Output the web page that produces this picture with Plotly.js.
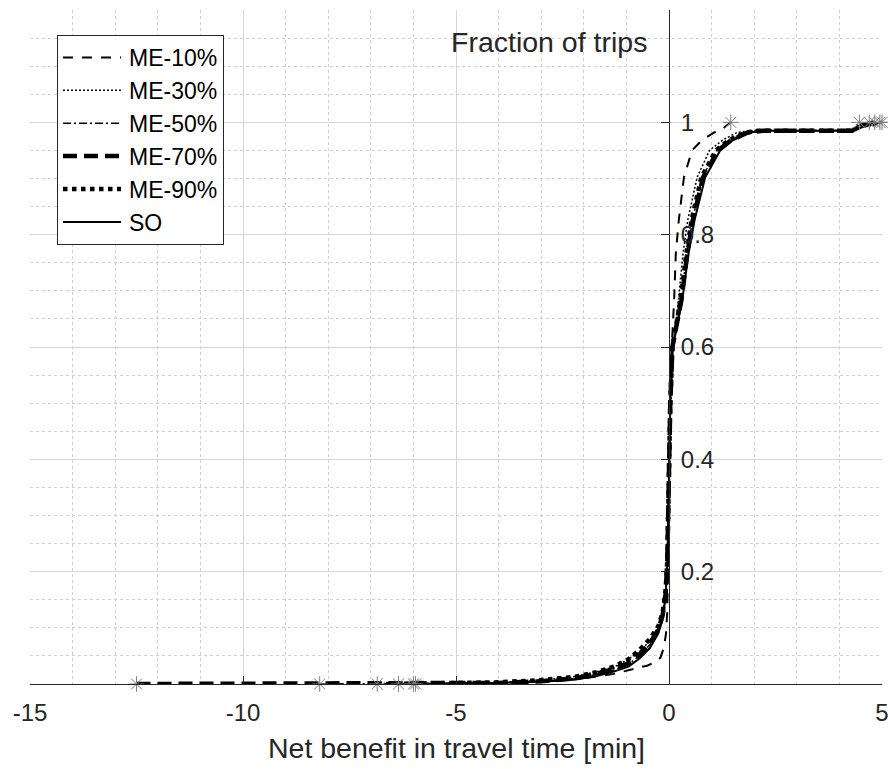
<!DOCTYPE html>
<html>
<head>
<meta charset="utf-8">
<script src="https://cdn.plot.ly/plotly-3.0.1.min.js"></script>
<style>html,body{margin:0;padding:0;background:#fff;}#chart{width:888px;height:769px;}</style>
</head>
<body>
<div id="chart"></div>
<script>
// Series names
const seriesNames = ["ME-10%", "ME-30%", "ME-50%", "ME-70%", "ME-90%", "SO"];

// Cumulative distributions (net benefit in minutes -> fraction of trips)
const me10X = [-5.95, -4.5, -3.0, -2.0, -1.3, -0.8, -0.5, -0.3, -0.2, -0.12, -0.07, -0.04, -0.02, 0, 0.02, 0.05, 0.12, 0.16, 0.23, 0.35, 0.54, 0.77, 1.06, 1.2, 1.45];
const me10Y = [0, 0.001, 0.004, 0.01, 0.018, 0.027, 0.033, 0.04, 0.047, 0.065, 0.09, 0.13, 0.2, 0.3, 0.45, 0.58, 0.683, 0.767, 0.826, 0.902, 0.95, 0.968, 0.982, 0.985, 1.0];

const me30X = [-6.0, -5, -4, -3, -2.3, -1.8, -1.3, -1.0, -0.7, -0.45, -0.25, -0.14, -0.07, -0.03, -0.01, 0.01, 0.04, 0.09, 0.22, 0.33, 0.44, 0.66, 0.95, 1.25, 1.6, 2.0, 4.3, 4.47];
const me30Y = [0, 0.001, 0.003, 0.007, 0.012, 0.02, 0.03, 0.042, 0.057, 0.077, 0.1, 0.13, 0.17, 0.23, 0.3, 0.4, 0.5, 0.6, 0.683, 0.767, 0.826, 0.902, 0.95, 0.968, 0.982, 0.986, 0.986, 1.0];

const me50X = [-8.2, -5, -4, -3, -2.2, -1.7, -1.3, -0.95, -0.7, -0.45, -0.25, -0.15, -0.08, -0.04, -0.02, 0, 0.03, 0.08, 0.28, 0.42, 0.55, 0.78, 1.12, 1.42, 1.82, 2.15, 4.3, 4.4, 4.7];
const me50Y = [0, 0.001, 0.002, 0.005, 0.01, 0.017, 0.025, 0.035, 0.05, 0.07, 0.095, 0.12, 0.16, 0.22, 0.3, 0.4, 0.5, 0.6, 0.683, 0.767, 0.826, 0.902, 0.95, 0.968, 0.982, 0.985, 0.985, 0.993, 1.0];

const me70X = [-12.5, -5, -4, -3, -2.2, -1.7, -1.3, -0.95, -0.7, -0.45, -0.25, -0.15, -0.08, -0.04, -0.02, 0, 0.03, 0.08, 0.29, 0.43, 0.56, 0.8, 1.15, 1.45, 1.85, 2.2, 4.3, 4.45, 4.83];
const me70Y = [0, 0.001, 0.002, 0.005, 0.01, 0.018, 0.027, 0.037, 0.052, 0.072, 0.097, 0.122, 0.16, 0.22, 0.3, 0.4, 0.5, 0.6, 0.683, 0.767, 0.826, 0.902, 0.95, 0.968, 0.982, 0.985, 0.985, 0.993, 1.0];

const me90X = [-6.85, -5, -4, -3, -2.2, -1.7, -1.3, -0.95, -0.7, -0.45, -0.25, -0.15, -0.08, -0.04, -0.02, 0, 0.03, 0.08, 0.27, 0.41, 0.53, 0.76, 1.1, 1.4, 1.8, 2.1, 4.3, 4.5, 4.95];
const me90Y = [0, 0.001, 0.003, 0.007, 0.013, 0.021, 0.031, 0.044, 0.06, 0.08, 0.103, 0.127, 0.165, 0.22, 0.3, 0.4, 0.5, 0.6, 0.683, 0.767, 0.826, 0.902, 0.95, 0.968, 0.982, 0.985, 0.985, 0.993, 1.0];

const soX = [-6.35, -5, -4, -3, -2.2, -1.7, -1.3, -0.95, -0.7, -0.45, -0.25, -0.15, -0.08, -0.04, -0.02, 0, 0.03, 0.09, 0.31, 0.46, 0.6, 0.85, 1.2, 1.5, 1.9, 2.25, 4.3, 4.6, 5.0];
const soY = [0, 0.001, 0.002, 0.004, 0.008, 0.014, 0.022, 0.031, 0.045, 0.064, 0.09, 0.115, 0.155, 0.21, 0.29, 0.39, 0.5, 0.6, 0.683, 0.767, 0.826, 0.902, 0.95, 0.968, 0.982, 0.985, 0.985, 0.993, 1.0];

// Axis ticks
const xTickVals = [-15, -10, -5, 0, 5];
const xTickText = ["-15", "-10", "-5", "0", "5"];
const yTickVals = [0.2, 0.4, 0.6, 0.8, 1];
const yTickText = ["0.2", "0.4", "0.6", "0.8", "1"];

const xTitle = "Net benefit in travel time [min]";
const yTitle = "Fraction of trips";

const seriesX = [me10X, me30X, me50X, me70X, me90X, soX];
const seriesY = [me10Y, me30Y, me50Y, me70Y, me90Y, soY];
const styles = [
  {width: 2, dash: "10px,9px"},
  {width: 1.5, dash: "2px,2px"},
  {width: 1.5, dash: "8px,3px,2px,3px"},
  {width: 4.5, dash: "14px,7px"},
  {width: 4.5, dash: "4.5px,4.5px"},
  {width: 2, dash: "solid"}
];

const FONT = "Liberation Sans, Arial, Helvetica, sans-serif";
const TXT = "#262626";

const traces = [];
seriesNames.forEach((name, i) => {
  traces.push({
    x: seriesX[i], y: seriesY[i], name: name, type: "scatter", mode: "lines",
    line: {color: "#000", width: styles[i].width, dash: styles[i].dash},
    hoverinfo: "skip"
  });
});
seriesNames.forEach((name, i) => {
  const xs = seriesX[i], ys = seriesY[i];
  traces.push({
    x: [xs[0], xs[xs.length - 1]], y: [ys[0], ys[ys.length - 1]],
    type: "scatter", mode: "markers", showlegend: false, hoverinfo: "skip",
    marker: {symbol: "asterisk-open", size: 13, color: "#7f7f7f", line: {color: "#7f7f7f", width: 1}},
    cliponaxis: false
  });
});

const layout = {
  width: 888, height: 769,
  margin: {l: 30, r: 6, t: 10, b: 85},
  paper_bgcolor: "#fff", plot_bgcolor: "#fff",
  font: {family: FONT, color: TXT},
  showlegend: true,
  legend: {
    x: 0.0317, y: 0.963, xanchor: "left", yanchor: "top",
    bgcolor: "#fff", bordercolor: "#262626", borderwidth: 1,
    font: {family: FONT, size: 23, color: "#000"},
    itemwidth: 61, tracegroupgap: 0
  },
  xaxis: {
    range: [-15, 5], autorange: false,
    tickmode: "array", tickvals: xTickVals, ticktext: xTickText,
    ticks: "inside", ticklen: 8, tickwidth: 1, tickcolor: "#262626",
    showline: true, linecolor: "#262626", linewidth: 1,
    showgrid: true, gridcolor: "#d6d6d6", gridwidth: 1,
    zeroline: false,
    tickfont: {family: FONT, size: 24, color: TXT},
    ticklabelstandoff: 7,
    ticklabeloverflow: "allow",
    minor: {tick0: 0, dtick: 1, showgrid: true, gridcolor: "#d0d0d0", griddash: "dot", gridwidth: 1, ticks: ""}
  },
  yaxis: {
    range: [0, 1.2], autorange: false,
    anchor: "free", position: 0.75, side: "right",
    tickmode: "array", tickvals: yTickVals, ticktext: yTickText,
    ticks: "inside", ticklen: 8, tickwidth: 1, tickcolor: "#262626",
    showline: true, linecolor: "#262626", linewidth: 1,
    showgrid: true, gridcolor: "#d6d6d6", gridwidth: 1,
    zeroline: false,
    tickfont: {family: FONT, size: 24, color: TXT},
    ticklabelstandoff: 6,
    minor: {tickmode: "linear", tick0: 0, dtick: 0.05, showgrid: true, gridcolor: "#d0d0d0", griddash: "dot", gridwidth: 1, ticks: ""}
  },
  annotations: [
    {text: xTitle, xref: "paper", yref: "paper", x: 0.5, y: -0.095, xanchor: "center", yanchor: "middle",
     showarrow: false, font: {family: FONT, size: 28.5, color: TXT}},
    {text: yTitle, xref: "x", yref: "paper", x: 0, xshift: -20, y: 0.9525, xanchor: "right", yanchor: "middle",
     showarrow: false, font: {family: FONT, size: 28.5, color: TXT}}
  ]
};

Plotly.newPlot("chart", traces, layout, {displayModeBar: false, staticPlot: true}).then(() => {
  // lengthen the legend line samples to match the reference legend
  document.querySelectorAll("#chart .legend .legendlines path").forEach(p => {
    p.setAttribute("d", "M5,0h58");
  });
});
</script>
</body>
</html>
